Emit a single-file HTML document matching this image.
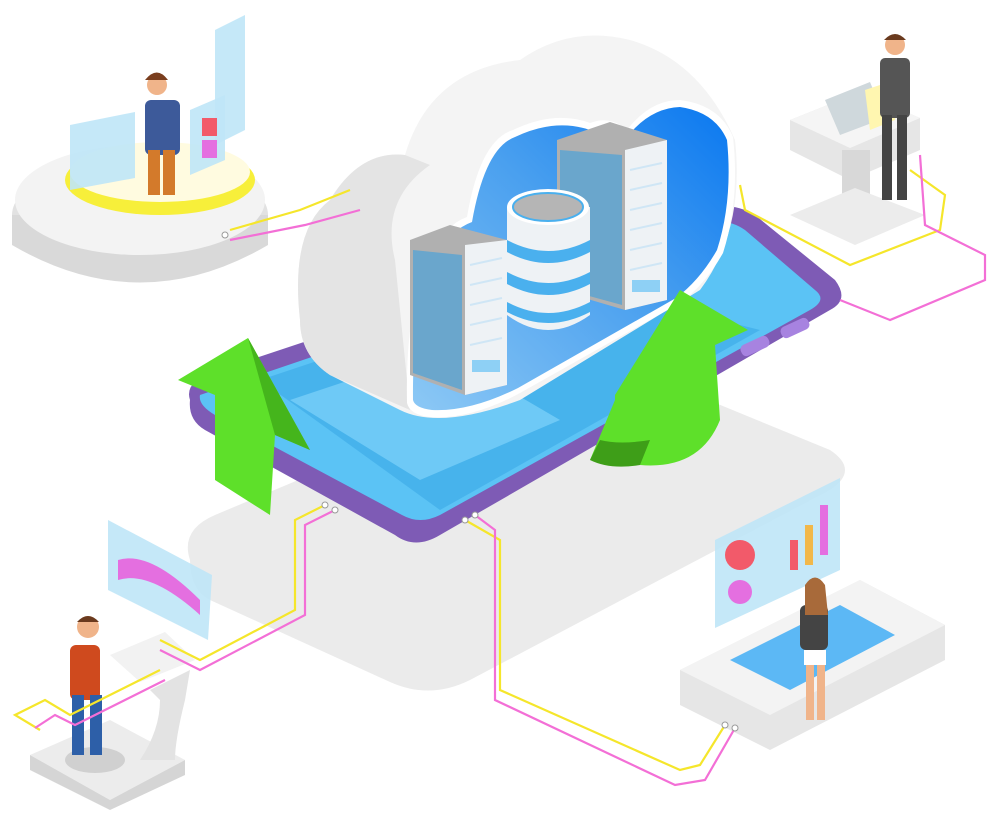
<!DOCTYPE html>
<html><head><meta charset="utf-8"><style>
html,body{margin:0;padding:0;background:#fff;}
svg{display:block}
</style></head><body>
<svg width="1000" height="832" viewBox="0 0 1000 832" xmlns="http://www.w3.org/2000/svg">
<defs>
<linearGradient id="op" x1="0" y1="1" x2="1" y2="0">
<stop offset="0" stop-color="#8cc8f5"/><stop offset="0.55" stop-color="#4aa0ef"/><stop offset="1" stop-color="#0a78f0"/>
</linearGradient>
</defs>
<!-- base platform shadow -->
<path d="M190 560 Q180 530 215 515 L560 370 Q600 355 640 372 L830 450 Q860 470 830 490 L470 680 Q430 700 390 682 L210 600 Q190 590 190 560Z" fill="#ebebeb"/>
<!-- top-left station -->
<ellipse cx="140" cy="215" rx="128" ry="55" fill="#e2e2e2"/>
<path d="M12 215 L12 245 Q140 320 268 245 L268 215Z" fill="#d9d9d9"/>
<ellipse cx="140" cy="200" rx="125" ry="55" fill="#f3f3f3"/>
<ellipse cx="160" cy="180" rx="95" ry="35" fill="#f7ef3a"/>
<ellipse cx="160" cy="172" rx="90" ry="30" fill="#fffbe0"/>
<path d="M70 125 L135 112 L135 178 L70 190Z" fill="#bfe6f7" opacity=".9"/>
<path d="M190 110 L225 95 L225 160 L190 175Z" fill="#bfe6f7" opacity=".9"/>
<path d="M215 30 L245 15 L245 130 L215 145Z" fill="#bfe6f7" opacity=".9"/>
<rect x="202" y="118" width="15" height="18" fill="#f25a6a"/><rect x="202" y="140" width="15" height="18" fill="#e46fe0"/>
<rect x="145" y="100" width="35" height="55" rx="6" fill="#3d5a9a"/>
<circle cx="157" cy="85" r="10" fill="#f0b48a"/><path d="M145 80 Q157 65 168 80Z" fill="#7a3e1e"/>
<rect x="148" y="150" width="12" height="45" fill="#d37a2b"/><rect x="163" y="150" width="12" height="45" fill="#d37a2b"/>
<!-- top-right station -->
<path d="M790 120 L860 92 L920 118 L920 150 L850 180 L790 150Z" fill="#e6e6e6"/>
<path d="M790 120 L860 92 L920 118 L850 148Z" fill="#f5f5f5"/>
<rect x="842" y="150" width="28" height="75" fill="#d8d8d8"/>
<path d="M790 215 L855 188 L925 215 L855 245Z" fill="#ececec"/>
<path d="M825 100 L870 82 L885 118 L840 135Z" fill="#cfd8dc"/>
<path d="M865 90 L895 80 L895 120 L870 130Z" fill="#fff6b0"/>
<rect x="880" y="58" width="30" height="60" rx="5" fill="#555"/>
<circle cx="895" cy="45" r="10" fill="#f0b48a"/><path d="M884 40 Q895 28 906 40Z" fill="#6a3a1e"/>
<rect x="882" y="115" width="10" height="85" fill="#444"/><rect x="897" y="115" width="10" height="85" fill="#444"/>
<!-- phone -->
<path d="M190 400 Q185 385 205 375 L700 210 Q730 200 755 215 L835 280 Q850 300 830 310 L440 535 Q415 550 395 535 L205 430 Q188 420 190 400Z" fill="#7e5bb5"/>
<path d="M200 395 L700 225 Q725 216 745 230 L815 290 Q828 300 810 310 L440 515 Q420 525 402 515 L215 415 Q198 405 200 395Z" fill="#5bc3f5"/>
<path d="M260 380 L560 280 L760 330 L440 510Z" fill="#3aa8e6" opacity=".6"/>
<path d="M290 400 L440 350 L560 420 L420 480Z" fill="#7fd3fb" opacity=".7"/>
<rect x="740" y="340" width="30" height="12" rx="5" fill="#a783e0" transform="rotate(-25 755 346)"/>
<rect x="780" y="322" width="30" height="12" rx="5" fill="#a783e0" transform="rotate(-25 795 328)"/>
<!-- cloud -->
<path d="M300 320 Q290 230 330 200 Q360 150 405 155 Q430 70 520 60 Q570 25 630 40 Q700 60 735 140 Q745 230 700 290 L520 400 Q440 430 400 410 L330 375 Q300 355 300 320Z" fill="#f4f4f4"/>
<path d="M300 320 Q290 230 330 200 Q360 150 405 155 L430 165 Q380 200 395 260 L410 410 L330 375 Q300 355 300 320Z" fill="#e4e4e4"/>
<path d="M407 403 Q405 300 433 253 Q445 225 467 217 Q480 140 513 130 Q555 110 590 123 Q610 115 627 130 Q650 100 680 100 Q720 105 733 137 Q740 200 723 253 Q705 285 680 303 L520 393 Q470 420 430 417 Q410 415 407 403Z" fill="#fff"/>
<path d="M413 400 Q412 300 438 257 Q450 230 472 222 Q485 148 515 137 Q555 118 590 130 Q610 122 627 137 Q650 108 680 107 Q715 112 727 140 Q733 200 717 250 Q700 280 676 298 L518 388 Q470 412 432 410 Q415 408 413 400Z" fill="url(#op)"/>
<!-- right server -->
<path d="M557 140 L610 122 L667 140 L667 300 L625 310 L557 290Z" fill="#b0b0b0"/>
<path d="M625 150 L667 140 L667 300 L625 310Z" fill="#eef2f5"/>
<path d="M560 150 L622 155 L622 305 L560 288Z" fill="#6aa6cc"/>
<g stroke="#cfe6f5" stroke-width="2"><path d="M630 170 L662 163"/><path d="M630 190 L662 183"/><path d="M630 210 L662 203"/><path d="M630 230 L662 223"/><path d="M630 250 L662 243"/><path d="M630 270 L662 263"/></g>
<rect x="632" y="280" width="28" height="12" fill="#8ed0f5"/>
<!-- left server -->
<path d="M410 240 L450 225 L507 240 L507 385 L465 395 L410 375Z" fill="#b0b0b0"/>
<path d="M465 245 L507 240 L507 385 L465 395Z" fill="#eef2f5"/>
<path d="M413 250 L462 255 L462 390 L413 373Z" fill="#6aa6cc"/>
<g stroke="#cfe6f5" stroke-width="2"><path d="M470 265 L502 258"/><path d="M470 285 L502 278"/><path d="M470 305 L502 298"/><path d="M470 325 L502 318"/><path d="M470 345 L502 338"/></g>
<rect x="472" y="360" width="28" height="12" fill="#8ed0f5"/>
<!-- database -->
<path d="M507 207 L507 315 Q548 345 590 315 L590 207Z" fill="#eef2f5"/>
<path d="M507 240 Q548 262 590 240 L590 252 Q548 274 507 252Z" fill="#4ab0ee"/>
<path d="M507 272 Q548 294 590 272 L590 284 Q548 306 507 284Z" fill="#4ab0ee"/>
<path d="M507 302 Q548 324 590 302 L590 312 Q548 334 507 312Z" fill="#4ab0ee"/>
<ellipse cx="548" cy="207" rx="41" ry="18" fill="#fff"/>
<ellipse cx="548" cy="207" rx="35" ry="14" fill="#b5b5b5" stroke="#4ab0ee" stroke-width="2"/>
<!-- green arrows -->
<path d="M178 380 L248 338 L310 450 L275 435 L270 515 L215 480 L215 395Z" fill="#5ee02a"/>
<path d="M248 338 L310 450 L275 435 Z" fill="#45b51c"/>
<path d="M590 460 L615 400 L615 395 L680 290 L748 330 L715 345 L720 420 Q700 470 640 465Z" fill="#5ee02a"/>
<path d="M590 460 Q610 470 640 465 L650 440 Q620 445 600 440Z" fill="#3e9e18"/>
<!-- bottom-left station -->
<path d="M30 755 L110 720 L185 760 L110 800 Z" fill="#ececec"/>
<path d="M30 755 L30 770 L110 810 L185 775 L185 760 L110 800Z" fill="#d5d5d5"/>
<ellipse cx="95" cy="760" rx="30" ry="13" fill="#d0d0d0"/>
<path d="M140 760 Q160 730 160 700 L150 690 L190 670 L185 700 Q175 740 175 760Z" fill="#e3e3e3"/>
<path d="M110 655 L165 632 L195 660 L140 682Z" fill="#f2f2f2"/>
<path d="M108 520 L212 575 L208 640 L108 590Z" fill="#bfe6f7" opacity=".9"/>
<path d="M118 560 Q150 550 200 600 L200 615 Q150 570 118 580Z" fill="#e46fe0"/>
<rect x="70" y="645" width="30" height="55" rx="6" fill="#cf4a1e"/>
<circle cx="88" cy="627" r="11" fill="#f0b48a"/><path d="M77 622 Q88 610 99 622Z" fill="#6a3a1e"/>
<rect x="72" y="695" width="12" height="60" fill="#2d5fa8"/><rect x="90" y="695" width="12" height="60" fill="#2d5fa8"/>
<!-- bottom-right station -->
<path d="M680 670 L860 580 L945 625 L945 660 L770 750 L680 705Z" fill="#e6e6e6"/>
<path d="M680 670 L860 580 L945 625 L770 715Z" fill="#f3f3f3"/>
<path d="M730 660 L840 605 L895 635 L790 690Z" fill="#5cb8f5"/>
<path d="M715 540 L840 478 L840 570 L715 628Z" fill="#bfe6f7" opacity=".9"/>
<circle cx="740" cy="555" r="15" fill="#f25a6a"/><circle cx="740" cy="592" r="12" fill="#e46fe0"/>
<rect x="790" y="540" width="8" height="30" fill="#f25a6a"/><rect x="805" y="525" width="8" height="40" fill="#f2b84a"/><rect x="820" y="505" width="8" height="50" fill="#e46fe0"/>
<rect x="800" y="605" width="28" height="45" rx="6" fill="#444"/>
<path d="M805 585 Q815 570 825 585 L828 615 L805 615Z" fill="#a86a3a"/>
<rect x="804" y="650" width="22" height="15" fill="#fff"/>
<rect x="806" y="665" width="8" height="55" fill="#f0b48a"/><rect x="817" y="665" width="8" height="55" fill="#f0b48a"/>
<!-- wires -->
<g fill="none" stroke-width="2.2">
<path d="M230 230 L300 210 L350 190" stroke="#f5e62b"/>
<path d="M230 240 L305 225 L360 210" stroke="#f36fd6"/>
<path d="M740 185 L745 210 L850 265 L940 230 L945 195 L910 170" stroke="#f5e62b"/>
<path d="M840 300 L890 320 L985 280 L985 255 L925 225 L920 155" stroke="#f36fd6"/>
<path d="M325 505 L295 520 L295 610 L200 660 L160 640" stroke="#f5e62b"/>
<path d="M335 510 L305 525 L305 615 L200 670 L160 650" stroke="#f36fd6"/>
<path d="M160 670 L70 715 L45 700 L15 715 L40 730" stroke="#f5e62b"/>
<path d="M165 680 L75 725 L55 715 L35 728" stroke="#f36fd6"/>
<path d="M465 520 L500 540 L500 690 L680 770 L700 765 L725 725" stroke="#f5e62b"/>
<path d="M475 515 L495 530 L495 700 L675 785 L705 780 L735 728" stroke="#f36fd6"/>
</g>
<g fill="#fff" stroke="#999" stroke-width="1">
<circle cx="225" cy="235" r="3"/><circle cx="325" cy="505" r="3"/><circle cx="335" cy="510" r="3"/>
<circle cx="465" cy="520" r="3"/><circle cx="475" cy="515" r="3"/><circle cx="725" cy="725" r="3"/><circle cx="735" cy="728" r="3"/>
</g>
</svg>
</body></html>
